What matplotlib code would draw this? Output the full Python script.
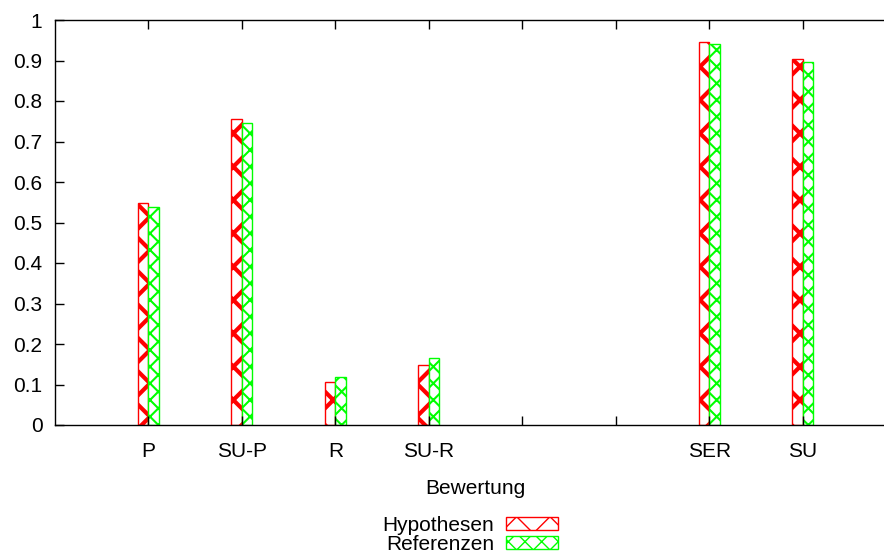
import numpy as np
import matplotlib
matplotlib.use("Agg")
import matplotlib.pyplot as plt
from matplotlib.patches import Patch

plt.rcParams['font.family'] = ['Liberation Sans', 'DejaVu Sans']

categories = ['P', 'SU-P', 'R', 'SU-R', '', '', 'SER', 'SU']
hypothesen = [0.547, 0.755, 0.105, 0.148, np.nan, np.nan, 0.945, 0.903]
referenzen = [0.538, 0.745, 0.119, 0.166, np.nan, np.nan, 0.941, 0.896]
yticks = [0, 0.1, 0.2, 0.3, 0.4, 0.5, 0.6, 0.7, 0.8, 0.9, 1]
ytick_labels = ['0', '0.1', '0.2', '0.3', '0.4', '0.5', '0.6', '0.7', '0.8', '0.9', '1']

W, H = 884, 559
fig = plt.figure(figsize=(W / 100, H / 100), dpi=100)
left, right, top, bottom = 55, 896, 20, 425
ax = fig.add_axes([left / W, (H - bottom) / H, (right - left) / W, (bottom - top) / H])

x = np.arange(len(categories))
bw = 0.112
red = '#ff0000'
green = '#00ff00'
fs = 15

with plt.rc_context({'hatch.linewidth': 3.0}):
    ax.bar(x - bw, hypothesen, width=bw, align='edge', facecolor='white',
           edgecolor=red, hatch='x', linewidth=1.0)
with plt.rc_context({'hatch.linewidth': 1.5}):
    ax.bar(x, referenzen, width=bw, align='edge', facecolor='white',
           edgecolor=green, hatch='xx', linewidth=1.0)

ax.set_xlim(-1, 8)
ax.set_ylim(0, 1)
ax.set_xticks(x)
ax.set_xticklabels(categories)
ax.set_yticks(yticks)
ax.set_yticklabels(ytick_labels)
ax.tick_params(axis='both', direction='in', length=6.5, width=1.0,
               labelsize=fs, top=True, right=True, colors='black')
ax.tick_params(axis='x', pad=12)
ax.tick_params(axis='y', pad=9)
for s in ax.spines.values():
    s.set_linewidth(1.0)
    s.set_color('black')

ax.set_xlabel('Bewertung', fontsize=fs, labelpad=13)

with plt.rc_context({'hatch.linewidth': 3.0}):
    h1 = Patch(facecolor='white', edgecolor=red, hatch='x', linewidth=1.0)
with plt.rc_context({'hatch.linewidth': 1.5}):
    h2 = Patch(facecolor='white', edgecolor=green, hatch='xx', linewidth=1.0)
fig.legend([h1, h2], ['Hypothesen', 'Referenzen'], loc='center',
           bbox_to_anchor=(470 / W, 1 - 535 / H), frameon=False,
           markerfirst=False, fontsize=fs, handlelength=2.5, handleheight=0.6,
           labelspacing=0.0, handletextpad=0.55, borderpad=0)

fig.savefig('out.png', dpi=100)
